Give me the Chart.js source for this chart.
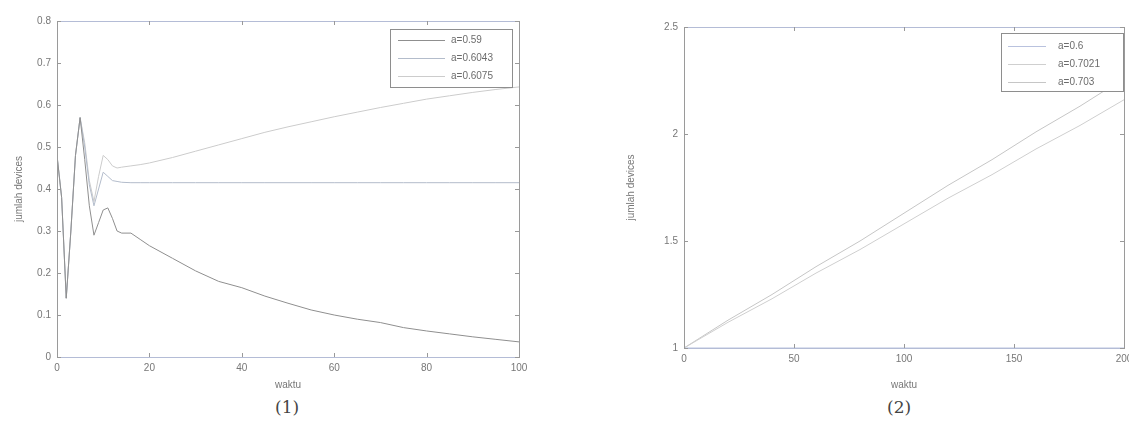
<!DOCTYPE html>
<html lang="en">
<head>
    <meta charset="UTF-8">
    <title>Jumlah devices terhadap waktu</title>
    <script src="https://cdn.jsdelivr.net/npm/chart.js"></script>
    <style>
        html, body { margin: 0; padding: 0; background: #fff; overflow: hidden; width: 1129px; height: 429px; }
        .panel { position: absolute; top: 0; }
        .caption { position: absolute; font-family: "DejaVu Serif", "Liberation Serif", serif; font-size: 17px; color: #444; }
    </style>
</head>
<body>
    <!-- Panel (1): a = 0.59 / 0.6043 / 0.6075 -->
    <div class="panel" style="left:0px;">
        <canvas id="chartLeft" width="540" height="395"></canvas>
    </div>
    <div class="caption" style="left:275px; top:397px;">(1)</div>

    <!-- Panel (2): a = 0.6 / 0.7021 / 0.703 -->
    <div class="panel" style="left:600px;">
        <canvas id="chartRight" width="560" height="395"></canvas>
    </div>
    <div class="caption" style="left:887px; top:397px;">(2)</div>

    <script>
        // ---- panel (1) data ----
        const leftLabels = ['a=0.59', 'a=0.6043', 'a=0.6075'];
        const leftTime = [0, 1, 2, 3, 4, 5, 6, 7, 8, 9, 10, 11, 12, 13, 14, 16, 18, 20,
                          25, 30, 35, 40, 45, 50, 55, 60, 65, 70, 75, 80, 85, 90, 95, 100];
        const leftA059 = [0.48, 0.38, 0.14, 0.30, 0.48, 0.57, 0.47, 0.36, 0.29, 0.32, 0.35, 0.355, 0.33, 0.30, 0.295, 0.295, 0.28, 0.265,
                          0.235, 0.205, 0.18, 0.165, 0.145, 0.128, 0.112, 0.10, 0.09, 0.082, 0.07, 0.062, 0.055, 0.048, 0.042, 0.036];
        const leftA06043 = [0.48, 0.38, 0.14, 0.30, 0.48, 0.57, 0.50, 0.41, 0.36, 0.40, 0.44, 0.43, 0.42, 0.418, 0.416, 0.415, 0.415, 0.415,
                            0.415, 0.415, 0.415, 0.415, 0.415, 0.415, 0.415, 0.415, 0.415, 0.415, 0.415, 0.415, 0.415, 0.415, 0.415, 0.415];
        const leftA06075 = [0.48, 0.38, 0.14, 0.30, 0.48, 0.57, 0.51, 0.42, 0.37, 0.43, 0.48, 0.47, 0.455, 0.45, 0.452, 0.455, 0.458, 0.462,
                            0.475, 0.49, 0.505, 0.52, 0.535, 0.548, 0.56, 0.572, 0.583, 0.594, 0.604, 0.614, 0.622, 0.63, 0.637, 0.643];
        const leftXTicks = [0, 20, 40, 60, 80, 100];
        const leftYTicks = [0, 0.1, 0.2, 0.3, 0.4, 0.5, 0.6, 0.7, 0.8];

        // ---- panel (2) data ----
        const rightLabels = ['a=0.6', 'a=0.7021', 'a=0.703'];
        const rightTime = [0, 20, 40, 60, 80, 100, 120, 140, 160, 180, 200];
        const rightA06 = [1, 1, 1, 1, 1, 1, 1, 1, 1, 1, 1];
        const rightA07021 = [1.0, 1.12, 1.23, 1.35, 1.46, 1.58, 1.70, 1.81, 1.93, 2.04, 2.16];
        const rightA0703 = [1.0, 1.13, 1.25, 1.38, 1.50, 1.63, 1.76, 1.88, 2.01, 2.13, 2.26];
        const rightXTicks = [0, 50, 100, 150, 200];
        const rightYTicks = [1, 1.5, 2, 2.5];

        const seriesColors = ['#8f8f8f', '#b3bccb', '#cccccc'];
        const rightColors = ['#b9c2de', '#cfcfcf', '#c6c6c6'];
        const axisFont = { family: '"Liberation Sans", Arial, sans-serif', size: 10 };
        const inkColor = '#777';

        function toPoints(xs, ys) {
            return xs.map((x, i) => ({ x: x, y: ys[i] }));
        }

        // draws the closed axes box, inward ticks and a boxed legend in the upper right
        const boxPlugin = {
            id: 'boxPlugin',
            afterDatasetsDraw(chart, args, opts) {
                const ctx = chart.ctx;
                const a = chart.chartArea;
                const xs = chart.scales.x, ys = chart.scales.y;
                ctx.save();
                ctx.lineWidth = 1;
                ctx.strokeStyle = '#9a9a9a';
                ctx.strokeRect(a.left + 0.5, a.top + 0.5, a.right - a.left, a.bottom - a.top);
                ctx.strokeStyle = '#b4bcd6';
                ctx.beginPath();
                ctx.moveTo(a.left, a.top + 0.5); ctx.lineTo(a.right, a.top + 0.5);
                ctx.moveTo(a.left, a.bottom + 0.5); ctx.lineTo(a.right, a.bottom + 0.5);
                ctx.stroke();
                ctx.strokeStyle = '#999';
                ctx.beginPath();
                xs.ticks.forEach(t => {
                    const px = Math.round(xs.getPixelForValue(t.value)) + 0.5;
                    ctx.moveTo(px, a.bottom); ctx.lineTo(px, a.bottom - 4);
                    ctx.moveTo(px, a.top); ctx.lineTo(px, a.top + 4);
                });
                ys.ticks.forEach(t => {
                    const py = Math.round(ys.getPixelForValue(t.value)) + 0.5;
                    ctx.moveTo(a.left, py); ctx.lineTo(a.left + 4, py);
                    ctx.moveTo(a.right, py); ctx.lineTo(a.right - 4, py);
                });
                ctx.stroke();

                // legend
                const lg = opts.legend;
                ctx.fillStyle = '#fff';
                ctx.fillRect(lg.left, lg.top, lg.width, lg.height);
                ctx.strokeStyle = '#8e8e8e';
                ctx.strokeRect(lg.left + 0.5, lg.top + 0.5, lg.width, lg.height);
                ctx.font = '10px "Liberation Sans", Arial, sans-serif';
                ctx.textBaseline = 'middle';
                chart.data.datasets.forEach((ds, i) => {
                    const y = Math.round(lg.top + lg.rowStart + i * lg.rowGap) + 0.5;
                    ctx.strokeStyle = ds.borderColor;
                    ctx.beginPath();
                    ctx.moveTo(lg.left + lg.lineFrom, y);
                    ctx.lineTo(lg.left + lg.lineTo, y);
                    ctx.stroke();
                    ctx.fillStyle = '#6c6c6c';
                    ctx.fillText(ds.label, lg.left + lg.textAt, y);
                });
                ctx.restore();
            }
        };

        function makeChart(canvasId, cfg) {
            const ctx = document.getElementById(canvasId).getContext('2d');
            return new Chart(ctx, {
                type: 'line',
                data: {
                    datasets: cfg.series.map((ys, i) => ({
                        label: cfg.labels[i],
                        data: toPoints(cfg.time, ys),
                        borderColor: cfg.colors[i],
                        borderWidth: 1,
                        pointRadius: 0,
                        tension: 0,
                        fill: false
                    }))
                },
                options: {
                    responsive: false,
                    animation: false,
                    layout: { padding: cfg.padding },
                    plugins: {
                        legend: { display: false },
                        tooltip: { enabled: false },
                        boxPlugin: { legend: cfg.legend }
                    },
                    scales: {
                        x: {
                            type: 'linear',
                            min: cfg.xTicks[0],
                            max: cfg.xTicks[cfg.xTicks.length - 1],
                            afterBuildTicks: s => { s.ticks = cfg.xTicks.map(v => ({ value: v })); },
                            afterFit: s => { s.height = cfg.xHeight; },
                            grid: { display: false, drawTicks: false },
                            border: { display: false },
                            ticks: { font: axisFont, color: inkColor, padding: 5, maxRotation: 0, autoSkip: false,
                                     callback: v => String(v) },
                            title: { display: true, text: 'waktu', font: axisFont, color: inkColor, padding: { top: 2 } }
                        },
                        y: {
                            type: 'linear',
                            min: cfg.yTicks[0],
                            max: cfg.yTicks[cfg.yTicks.length - 1],
                            afterBuildTicks: s => { s.ticks = cfg.yTicks.map(v => ({ value: v })); },
                            afterFit: s => { s.width = cfg.yWidth; },
                            grid: { display: false, drawTicks: false },
                            border: { display: false },
                            ticks: { font: axisFont, color: inkColor, padding: 6, autoSkip: false,
                                     callback: v => String(v) },
                            title: { display: true, text: 'jumlah devices', font: axisFont, color: inkColor,
                                     padding: { top: cfg.yTitleShift, bottom: 0 } }
                        }
                    }
                },
                plugins: [boxPlugin]
            });
        }

        makeChart('chartLeft', {
            time: leftTime,
            series: [leftA059, leftA06043, leftA06075],
            labels: leftLabels,
            colors: seriesColors,
            xTicks: leftXTicks,
            yTicks: leftYTicks,
            padding: { top: 21, right: 21, left: 0, bottom: 0 },
            xHeight: 38,
            yWidth: 57,
            yTitleShift: 13,
            legend: { left: 390, top: 29, width: 122, height: 58, rowStart: 11, rowGap: 18, lineFrom: 8, lineTo: 55, textAt: 61 }
        });

        makeChart('chartRight', {
            time: rightTime,
            series: [rightA06, rightA07021, rightA0703],
            labels: rightLabels,
            colors: rightColors,
            xTicks: rightXTicks,
            yTicks: rightYTicks,
            padding: { top: 27, right: 36, left: 0, bottom: 0 },
            xHeight: 47,
            yWidth: 84,
            yTitleShift: 25,
            legend: { left: 401, top: 33, width: 122, height: 58, rowStart: 13, rowGap: 18, lineFrom: 7, lineTo: 45, textAt: 57 }
        });
    </script>
</body>
</html>
